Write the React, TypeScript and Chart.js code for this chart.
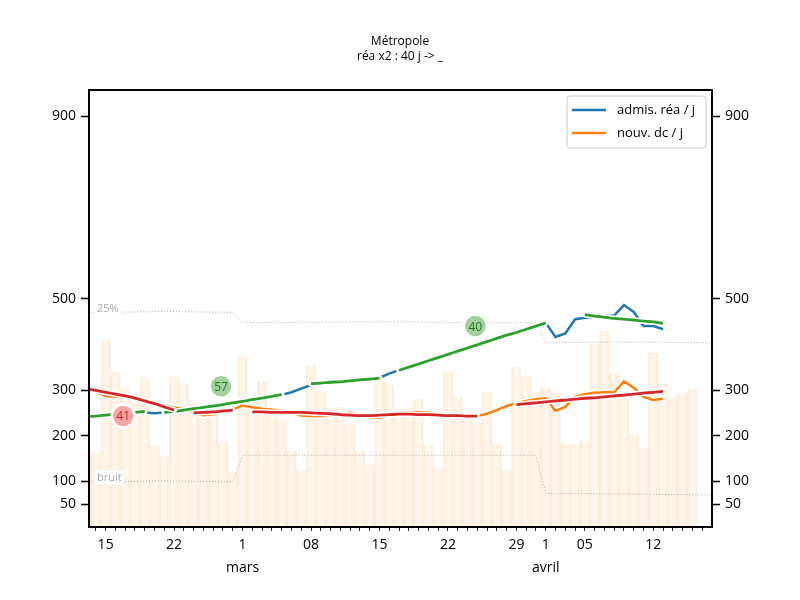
import { useEffect, useRef } from "react"
import Chart from "chart.js/auto"

// jour 0 = 15 février 2021
const FONT = "Open Sans"

// réanimations : admissions / jour (lissées), à partir du jour -2
const ADMIS_START = -2
const admisRea = [
  242, 244, 245, 247, 249, 250, 251, 249, 251, 254, 257, 261, 264, 267, 271, 274, 278, 281, 284, 286,
  289, 295, 303, 311, 315, 316, 318, 320, 322, 324, 327, 336, 344, 353, 360, 366, 372, 378, 383, 389,
  396, 404, 412, 421, 429, 436, 441, 447, 416, 424, 455, 458, 460, 461, 463, 486, 471, 440, 440, 433,
]

// nouveaux décès / jour (lissés), à partir du jour -2
const DC_START = -2
const nouvDc = [
  302, 297, 287, 285, 284, 281, 276, 271, 266, 262, 258, 250, 245, 247, 251, 257, 266, 262, 259, 257,
  255, 250, 244, 243, 243, 245, 248, 250, 246, 240, 239, 244, 248, 251, 252, 250, 247, 244, 243, 243,
  243, 248, 256, 265, 271, 276, 280, 282, 254, 263, 285, 291, 294, 295, 295, 319, 305, 285, 278, 281,
]

// valeurs brutes (barres), à partir du jour -2
const BRUT_START = -2
const brut = [
  165, 161, 409, 341, 305, 282, 326, 179, 154, 328, 311, 271, 245, 256, 185, 120, 375, 285, 320, 262,
  238, 168, 124, 354, 296, 261, 263, 225, 168, 135, 318, 311, 241, 262, 280, 179, 130, 340, 285, 245,
  227, 297, 183, 124, 350, 330, 296, 305, 293, 183, 181, 190, 402, 429, 338, 282, 203, 173, 381, 314,
  285, 294, 302,
]

// ajustements (segments) sur les admissions
const fitReaStarts = [-2, 6, 21, 30, 49]
const fitRea = [
  [242, 243, 245, 247, 249, 251, 253],
  [251, 253, 256, 259, 262, 265, 268, 272, 275, 279, 282, 286, 290],
  [314, 315, 317, 318, 320, 322, 324, 326],
  [343, 350, 357, 364, 371, 378, 385, 392, 399, 406, 413, 420, 426, 433, 440, 447],
  [465, 462, 459, 457, 455, 453, 451, 449, 446],
]

// ajustements (segments) sur les décès
const fitDcStarts = [-2, 9, 15, 42]
const fitDc = [
  [303, 299, 295, 291, 287, 282, 276, 270, 263, 256],
  [250, 251, 252, 254, 256],
  [252, 252, 251, 251, 251, 251, 250, 249, 248, 246, 245, 244, 244, 245, 246, 247, 247, 246, 246, 245, 244, 244, 243, 243],
  [268, 270, 272, 274, 276, 278, 280, 282, 283, 285, 287, 289, 291, 293, 295, 297],
]

// seuils pointillés
const seuilDays = [-2, 6, 13, 14, 30, 44, 45, 55, 62]
const seuil25 = [469, 472, 470, 448, 449, 447, 404, 405, 403]
const seuilBruit = [99, 101, 99, 157, 157, 157, 74, 72, 70]

// temps de doublement (pastilles)
const badgeDays = [1.8, 11.8, 37.8]
const badgeValues = [243, 308, 440]
const badgeTexts = ["41", "57", "40"]
const badgeKinds = ["dc", "rea", "rea"]

// axes
const yTicks = [50, 100, 200, 300, 500, 900]
const xTickDays = [0, 7, 14, 21, 28, 35, 42, 45, 49, 56]
const xTickLabels = ["15", "22", "1", "08", "15", "22", "29", "1", "05", "12"]
const monthDays = [14, 45]
const monthLabels = ["mars", "avril"]

const BLUE = "#1f77b4"
const ORANGE = "#ff7f0e"
const GREEN = "#2ca02c"
const RED = "#d62728"

function serie(start: number, values: number[]) {
  return values.map((y, i) => ({ x: start + i, y }))
}

function points(days: number[], values: number[]) {
  return days.map((x, i) => ({ x, y: values[i] }))
}

function outlined(data: any[], color: string, width: number, order: number, tension: number) {
  const base = { type: "line" as const, data, pointRadius: 0, tension, fill: false }
  return [
    { ...base, borderColor: "#ffffff", borderWidth: width + 3, borderCapStyle: "round" as const, order: order + 1 },
    { ...base, borderColor: color, borderWidth: width, order },
  ]
}

const decor = {
  id: "decor",
  afterDatasetsDraw(chart: any) {
    const { ctx, chartArea, scales } = chart
    const x = scales.x
    const y = scales.y
    ctx.save()

    // étiquettes des seuils
    ctx.font = `11px "${FONT}"`
    ctx.textBaseline = "middle"
    ctx.textAlign = "left"
    const seuilLabels: [string, number][] = [["25%", seuil25[0]], ["bruit", seuilBruit[0]]]
    for (const [txt, v] of seuilLabels) {
      const px = chartArea.left + 8
      const py = y.getPixelForValue(v) - 4
      const w = ctx.measureText(txt).width
      ctx.fillStyle = "#ffffff"
      ctx.fillRect(px - 2, py - 7, w + 4, 14)
      ctx.fillStyle = "#aaaaaa"
      ctx.fillText(txt, px, py)
    }

    // pastilles
    ctx.textAlign = "center"
    ctx.font = `12px "${FONT}"`
    badgeDays.forEach((d, i) => {
      const px = x.getPixelForValue(d)
      const py = y.getPixelForValue(badgeValues[i])
      const isDc = badgeKinds[i] === "dc"
      ctx.beginPath()
      ctx.arc(px, py, 11.5, 0, Math.PI * 2)
      ctx.fillStyle = isDc ? "#f7a6a6" : "#a3d19d"
      ctx.fill()
      ctx.lineWidth = 2.5
      ctx.strokeStyle = "#ffffff"
      ctx.stroke()
      ctx.fillStyle = isDc ? "#e8161a" : "#1f7a1f"
      ctx.fillText(badgeTexts[i], px, py + 1)
    })

    // cadre
    ctx.lineWidth = 2
    ctx.strokeStyle = "#000000"
    ctx.strokeRect(chartArea.left, chartArea.top, chartArea.right - chartArea.left, chartArea.bottom - chartArea.top)

    // légende
    const bw = 139
    const bh = 52
    const bx = chartArea.right - bw - 6
    const by = chartArea.top + 6
    ctx.beginPath()
    ctx.roundRect(bx, by, bw, bh, 3)
    ctx.fillStyle = "rgba(255,255,255,0.9)"
    ctx.fill()
    ctx.lineWidth = 1
    ctx.strokeStyle = "#cccccc"
    ctx.stroke()
    ctx.font = `13px "${FONT}"`
    ctx.textAlign = "left"
    const entries: [string, string][] = [["admis. réa / j", BLUE], ["nouv. dc / j", ORANGE]]
    entries.forEach(([txt, color], i) => {
      const ly = by + 14 + i * 23
      ctx.beginPath()
      ctx.moveTo(bx + 5, ly)
      ctx.lineTo(bx + 39, ly)
      ctx.lineWidth = 2.5
      ctx.strokeStyle = color
      ctx.stroke()
      ctx.fillStyle = "#000000"
      ctx.fillText(txt, bx + 50, ly)
    })
    ctx.restore()
  },
}

export default function App() {
  const chartRef = useRef<HTMLCanvasElement>(null)
  const chartInstance = useRef<Chart | null>(null)

  useEffect(() => {
    if (!chartRef.current) return
    const ctx = chartRef.current.getContext("2d")
    if (!ctx) return
    if (chartInstance.current) chartInstance.current.destroy()

    const dayTicks: number[] = []
    for (let d = -1; d <= 61; d++) dayTicks.push(d)

    const tickFont = { family: FONT, size: 14, lineHeight: 1.65 }

    const datasets: any[] = [
      {
        type: "bar",
        data: serie(BRUT_START, brut),
        backgroundColor: "rgba(255, 190, 120, 0.15)",
        borderColor: "rgba(250, 180, 100, 0.2)",
        borderWidth: { left: 1.5, right: 1.5, top: 0, bottom: 0 },
        barPercentage: 1,
        categoryPercentage: 1,
        order: 100,
      },
      {
        type: "line",
        data: points(seuilDays, seuil25),
        borderColor: "#aaaaaa",
        borderWidth: 1,
        borderDash: [1, 2],
        pointRadius: 0,
        order: 90,
      },
      {
        type: "line",
        data: points(seuilDays, seuilBruit),
        borderColor: "#aaaaaa",
        borderWidth: 1,
        borderDash: [1, 2],
        pointRadius: 0,
        order: 90,
      },
      ...outlined(serie(ADMIS_START, admisRea), BLUE, 2.5, 60, 0),
      ...outlined(serie(DC_START, nouvDc), ORANGE, 2.5, 50, 0),
      ...fitRea.flatMap((vals, i) => outlined(serie(fitReaStarts[i], vals), GREEN, 2.8, 40, 0.3)),
      ...fitDc.flatMap((vals, i) => outlined(serie(fitDcStarts[i], vals), RED, 2.8, 30, 0.3)),
    ]

    chartInstance.current = new Chart(ctx, {
      type: "bar",
      data: { datasets },
      options: {
        responsive: true,
        maintainAspectRatio: false,
        animation: false,
        layout: { padding: 0 },
        scales: {
          x: {
            type: "linear",
            offset: false,
            min: -1.7,
            max: 62,
            afterBuildTicks: (s: any) => {
              s.ticks = dayTicks.map((v) => ({ value: v }))
            },
            afterFit: (s: any) => {
              s.height = 73
            },
            ticks: {
              autoSkip: false,
              maxRotation: 0,
              padding: 2,
              color: "#000",
              font: tickFont,
              callback: (value: any) => {
                const i = xTickDays.indexOf(Number(value))
                if (i < 0) return ""
                const m = monthDays.indexOf(Number(value))
                return m >= 0 ? [xTickLabels[i], monthLabels[m]] : xTickLabels[i]
              },
            },
            grid: {
              offset: false,
              drawOnChartArea: false,
              drawTicks: true,
              tickLength: 4,
              tickColor: "#333",
              tickWidth: 1,
            },
            border: { display: false },
          },
          y: {
            type: "linear",
            position: "left",
            min: 0,
            max: 957,
            afterBuildTicks: (s: any) => {
              s.ticks = yTicks.map((v) => ({ value: v }))
            },
            afterFit: (s: any) => {
              s.width = 89
            },
            ticks: { padding: 5, color: "#000", font: tickFont },
            grid: { drawOnChartArea: false, tickLength: 8, tickColor: "#000", tickWidth: 1.5 },
            border: { display: false },
          },
          y2: {
            type: "linear",
            position: "right",
            min: 0,
            max: 957,
            afterBuildTicks: (s: any) => {
              s.ticks = yTicks.map((v) => ({ value: v }))
            },
            afterFit: (s: any) => {
              s.width = 88
            },
            ticks: { padding: 5, color: "#000", font: tickFont },
            grid: { drawOnChartArea: false, tickLength: 8, tickColor: "#000", tickWidth: 1.5 },
            border: { display: false },
          },
        },
        plugins: {
          legend: { display: false },
          tooltip: { enabled: false },
          title: {
            display: true,
            text: ["Métropole", "réa x2 : 40 j -> _"],
            color: "#000",
            font: { family: FONT, size: 12, weight: "normal", lineHeight: 1.25 },
            padding: { top: 34, bottom: 26 },
          },
        },
      },
      plugins: [decor],
    })

    return () => {
      if (chartInstance.current) {
        chartInstance.current.destroy()
        chartInstance.current = null
      }
    }
  }, [])

  return (
    <div style={{ position: "absolute", left: 0, top: 0, width: 800, height: 600 }}>
      <canvas ref={chartRef} aria-label="Métropole, admissions en réanimation et décès" role="img"></canvas>
    </div>
  )
}
